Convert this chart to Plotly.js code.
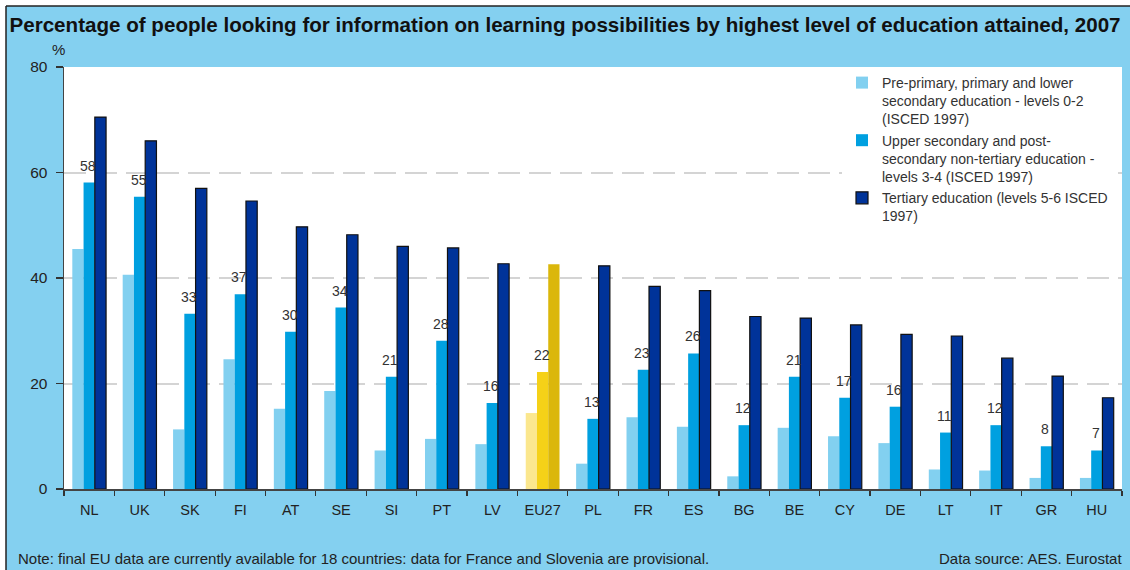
<!DOCTYPE html>
<html>
<head>
<meta charset="utf-8">
<script src="https://cdn.plot.ly/plotly-3.0.1.min.js"></script>
<style>html,body{margin:0;padding:0;background:#fff;}#chart{width:1130px;height:570px;}</style>
</head>
<body>
<div id="chart"></div>
<script>
// ---- data ----
var countries = ["NL","UK","SK","FI","AT","SE","SI","PT","LV","EU27","PL","FR","ES","BG","BE","CY","DE","LT","IT","GR","HU"];
var lowerSecondary = [45.5,40.6,11.3,24.6,15.2,18.6,7.3,9.5,8.5,14.4,4.8,13.6,11.8,2.4,11.6,10.0,8.7,3.7,3.5,2.1,2.1];
var upperSecondary = [58.1,55.4,33.2,36.9,29.8,34.4,21.3,28.1,16.3,22.2,13.3,22.6,25.7,12.1,21.3,17.3,15.6,10.7,12.1,8.1,7.3];
var tertiary = [70.5,66.0,57.0,54.6,49.7,48.2,46.0,45.7,42.7,42.6,42.3,38.4,37.6,32.7,32.4,31.1,29.3,29.0,24.8,21.4,17.3];
var seriesNames = [
  "Pre-primary, primary and lower<br>secondary education - levels 0-2<br>(ISCED 1997)",
  "Upper secondary and post-<br>secondary non-tertiary education -<br>levels 3-4 (ISCED 1997)",
  "Tertiary education (levels 5-6 ISCED<br>1997)"
];
var yTicks = [0,20,40,60,80];
var highlight = "EU27";

// ---- geometry helpers (plot area in pixels) ----
var W = 1130, H = 570, L = 64, R = 1122, T = 67, B = 489;
function px(x){ return (x - L) / (R - L); }
function py(y){ return (B - y) / (B - T); }

function colorsFor(normal, special){
  return countries.map(function(c){ return c === highlight ? special : normal; });
}

var traces = [
  {type:'bar', name: seriesNames[0], x: countries, y: lowerSecondary,
   marker:{color: colorsFor('#82d0f0','#fbe78e'), line:{width:0}}, hoverinfo:'x+y'},
  {type:'bar', name: seriesNames[1], x: countries, y: upperSecondary,
   marker:{color: colorsFor('#00a0e0','#f5d118'), line:{width:0}}, hoverinfo:'x+y'},
  {type:'bar', name: seriesNames[2], x: countries, y: tertiary,
   marker:{color: colorsFor('#003399','#dbb70b'),
           line:{width:1.2, color: colorsFor('#111111','rgba(0,0,0,0)')}}, hoverinfo:'x+y'}
];

var annotations = countries.map(function(c, i){
  return {x: c, y: upperSecondary[i], xref:'x', yref:'y', text: String(Math.round(upperSecondary[i])),
          showarrow:false, yanchor:'bottom', xanchor:'center', yshift: 7, xshift: -1,
          font:{family:'Liberation Sans, Arial, sans-serif', size:14, color:'#333333'}};
});
annotations.push({xref:'paper', yref:'paper', x: px(58), y: py(50), text:'%', showarrow:false,
  xanchor:'center', yanchor:'middle', font:{family:'Liberation Sans, Arial, sans-serif', size:15, color:'#222'}});
annotations.push({xref:'paper', yref:'paper', x: px(16), y: py(558), text:'Note: final EU data are currently available for 18 countries: data for France and Slovenia are provisional.',
  showarrow:false, xanchor:'left', yanchor:'middle', font:{family:'Liberation Sans Narrow, Liberation Sans, Arial, sans-serif', size:15, color:'#222'}});
annotations.push({xref:'paper', yref:'paper', x: px(1124), y: py(558), text:'Data source: AES. Eurostat',
  showarrow:false, xanchor:'right', yanchor:'middle', font:{family:'Liberation Sans Narrow, Liberation Sans, Arial, sans-serif', size:15, color:'#222'}});

var shapes = [
  {type:'rect', xref:'paper', yref:'paper', x0: px(-5), x1: px(6), y0: py(H+5), y1: py(-5), fillcolor:'#ffffff', line:{width:0}, layer:'below'},
  {type:'rect', xref:'paper', yref:'paper', x0: px(-5), x1: px(W+5), y0: py(6), y1: py(-5), fillcolor:'#ffffff', line:{width:0}, layer:'below'},
  {type:'line', xref:'paper', yref:'paper', x0: px(6), x1: px(6), y0: py(6), y1: py(H+5), line:{width:1.5, color:'#222'}},
  {type:'line', xref:'paper', yref:'paper', x0: px(6), x1: px(W+5), y0: py(6), y1: py(6), line:{width:1.5, color:'#222'}}
];

var layout = {
  width: W, height: H,
  margin:{l: L, r: W - R, t: T, b: H - B, pad: 0},
  paper_bgcolor:'#84d0f0', plot_bgcolor:'#ffffff',
  font:{family:'Liberation Sans, Arial, sans-serif', color:'#222'},
  title:{text:'<b>Percentage of people looking for information on learning possibilities by highest level of education attained, 2007</b>',
         x:0.5, xref:'container', xanchor:'center', y: 1 - 25/H, yref:'container', yanchor:'middle',
         font:{family:'Liberation Sans Narrow, Liberation Sans, Arial, sans-serif', size:20.6, color:'#111'}},
  barmode:'group', bargap:0.33, bargroupgap:0,
  showlegend:true,
  legend:{x: px(842), y: 1, xanchor:'left', yanchor:'top', bgcolor:'#ffffff', borderwidth:0,
          valign:'top', tracegroupgap:0, traceorder:'normal',
          font:{family:'Liberation Sans, Arial, sans-serif', size:14, color:'#333'}},
  xaxis:{type:'category', tickson:'boundaries', ticks:'outside', ticklen:5, tickwidth:1.2, tickcolor:'#333',
         showline:true, linecolor:'#444', linewidth:1.5, showgrid:false, ticklabelstandoff:7,
         tickfont:{family:'Liberation Sans Narrow, Liberation Sans, Arial, sans-serif', size:14.5, color:'#222'},
         fixedrange:true},
  yaxis:{range:[0,80], tickvals: yTicks, ticktext: yTicks.map(String), ticks:'outside', ticklen:7, tickwidth:1.2, tickcolor:'#333',
         showline:true, linecolor:'#444', linewidth:1.5, showgrid:true, gridcolor:'#d4d4d4', gridwidth:2, griddash:'22px,9px',
         zeroline:false, ticklabelstandoff:5,
         tickfont:{family:'Liberation Sans Narrow, Liberation Sans, Arial, sans-serif', size:15.5, color:'#222'},
         fixedrange:true},
  annotations: annotations,
  shapes: shapes
};

Plotly.newPlot('chart', traces, layout, {displayModeBar:false, staticPlot:true});
</script>
</body>
</html>
